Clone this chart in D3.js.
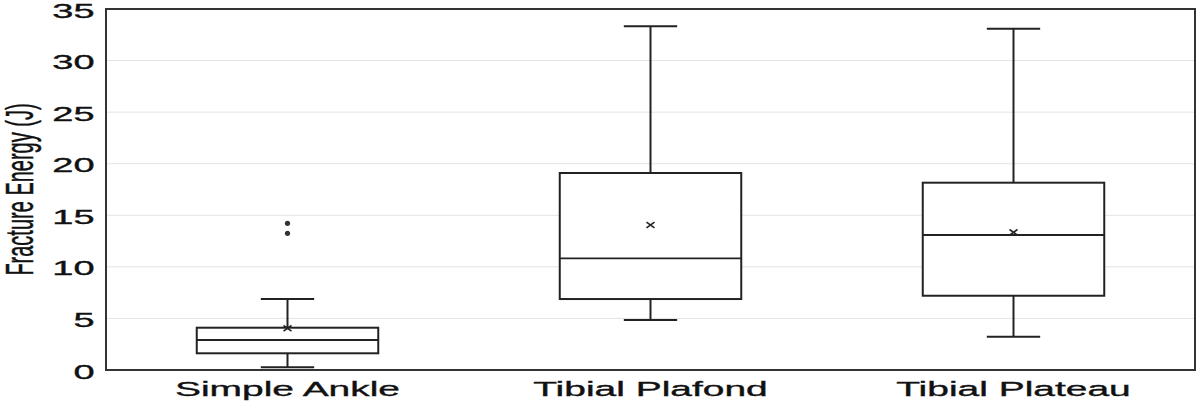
<!DOCTYPE html>
<html>
<head>
<meta charset="utf-8">
<script src="https://cdn.jsdelivr.net/npm/d3@7"></script>
<style>
  html, body { margin: 0; padding: 0; background: #fff; }
  svg { display: block; font-family: "Liberation Sans", Arial, sans-serif; }
</style>
</head>
<body>
<svg id="chart"></svg>
<script>
// box plot values (J)
const categories = ['Simple Ankle', 'Tibial Plafond', 'Tibial Plateau'];
const mins = [0.26, 4.85, 3.23];
const q1s = [1.62, 6.88, 7.2];
const medians = [2.91, 10.83, 13.09];
const q3s = [4.1, 19.1, 18.16];
const maxs = [6.88, 33.32, 33.09];
const means = [4.04, 14.06, 13.35];
const outliers = [[13.25, 14.22], [], []];
const yTicks = [0, 5, 10, 15, 20, 25, 30, 35];

const width = 1200;
const height = 402;
const margin = { top: 9, right: 5, bottom: 32, left: 106 };
const stretch = 1.9; // the source picture is stretched sideways

const svg = d3.select('#chart').attr('width', width).attr('height', height);

const x = d3.scaleBand()
  .domain(categories)
  .range([margin.left, width - margin.right])
  .paddingInner(0)
  .paddingOuter(0);

const y = d3.scaleLinear()
  .domain([0, 35])
  .range([height - margin.bottom, margin.top]);

// grid lines
svg.append('g')
  .selectAll('line')
  .data(yTicks.filter(d => d > 0 && d < 35))
  .enter()
  .append('line')
  .attr('x1', margin.left)
  .attr('x2', width - margin.right)
  .attr('y1', d => y(d))
  .attr('y2', d => y(d))
  .attr('stroke', '#e3e3e3')
  .attr('stroke-width', 1);

// y axis
const yAxis = svg.append('g')
  .attr('transform', `translate(${margin.left}, 0)`)
  .call(d3.axisLeft(y).tickValues(yTicks).tickSize(0).tickPadding(6));
yAxis.select('.domain').remove();
yAxis.selectAll('text')
  .attr('font-size', 20)
  .attr('dy', '0.4em')
  .attr('fill', '#111')
  .attr('stroke', '#111')
  .attr('stroke-width', 0.35)
  .attr('font-family', '"Liberation Sans", Arial, sans-serif')
  .attr('transform', `scale(${stretch},1)`);

// x axis
const xAxis = svg.append('g')
  .attr('transform', `translate(0, ${height - margin.bottom})`)
  .call(d3.axisBottom(x).tickSize(0).tickPadding(11));
xAxis.select('.domain').remove();
xAxis.selectAll('text')
  .attr('font-size', 20.5)
  .attr('fill', '#111')
  .attr('stroke', '#111')
  .attr('stroke-width', 0.35)
  .attr('font-family', '"Liberation Sans", Arial, sans-serif')
  .attr('transform', `scale(${stretch},1)`);

// y axis title
svg.append('text')
  .attr('transform', `translate(33, ${(margin.top + height - margin.bottom) / 2}) rotate(-90) scale(1,${stretch})`)
  .attr('text-anchor', 'middle')
  .attr('font-size', 20)
  .attr('fill', '#111')
  .attr('stroke', '#111')
  .attr('stroke-width', 0.25)
  .text('Fracture Energy (J)');

// frame
svg.append('rect')
  .attr('x', margin.left)
  .attr('y', margin.top)
  .attr('width', width - margin.right - margin.left)
  .attr('height', height - margin.bottom - margin.top)
  .attr('fill', 'none')
  .attr('stroke', '#333')
  .attr('stroke-width', 2);

const boxW = x.bandwidth() * 0.5;
const capW = x.bandwidth() * 0.147;
const stroke = '#222';

const boxes = svg.append('g')
  .selectAll('g')
  .data(categories)
  .enter()
  .append('g')
  .attr('transform', d => `translate(${x(d) + x.bandwidth() / 2}, 0)`);

// whiskers
boxes.append('line')
  .attr('y1', (d, i) => y(maxs[i]))
  .attr('y2', (d, i) => y(q3s[i]))
  .attr('stroke', stroke).attr('stroke-width', 2);
boxes.append('line')
  .attr('y1', (d, i) => y(q1s[i]))
  .attr('y2', (d, i) => y(mins[i]))
  .attr('stroke', stroke).attr('stroke-width', 2);
boxes.append('line')
  .attr('x1', -capW / 2).attr('x2', capW / 2)
  .attr('y1', (d, i) => y(maxs[i])).attr('y2', (d, i) => y(maxs[i]))
  .attr('stroke', stroke).attr('stroke-width', 2);
boxes.append('line')
  .attr('x1', -capW / 2).attr('x2', capW / 2)
  .attr('y1', (d, i) => y(mins[i])).attr('y2', (d, i) => y(mins[i]))
  .attr('stroke', stroke).attr('stroke-width', 2);

// box
boxes.append('rect')
  .attr('x', -boxW / 2)
  .attr('width', boxW)
  .attr('y', (d, i) => y(q3s[i]))
  .attr('height', (d, i) => y(q1s[i]) - y(q3s[i]))
  .attr('fill', '#fff')
  .attr('stroke', stroke)
  .attr('stroke-width', 2);

// median
boxes.append('line')
  .attr('x1', -boxW / 2).attr('x2', boxW / 2)
  .attr('y1', (d, i) => y(medians[i])).attr('y2', (d, i) => y(medians[i]))
  .attr('stroke', stroke).attr('stroke-width', 1.8);

// mean marker (x)
const m = 4;
boxes.append('path')
  .attr('d', (d, i) => {
    const yy = y(means[i]);
    return `M${-m},${yy - m * 0.7}L${m},${yy + m * 0.7}M${-m},${yy + m * 0.7}L${m},${yy - m * 0.7}`;
  })
  .attr('stroke', stroke)
  .attr('stroke-width', 1.6)
  .attr('fill', 'none');

// outliers
boxes.selectAll('circle')
  .data((d, i) => outliers[i])
  .enter()
  .append('circle')
  .attr('cx', 0)
  .attr('cy', d => y(d))
  .attr('r', 2.6)
  .attr('fill', '#333');
</script>
</body>
</html>
